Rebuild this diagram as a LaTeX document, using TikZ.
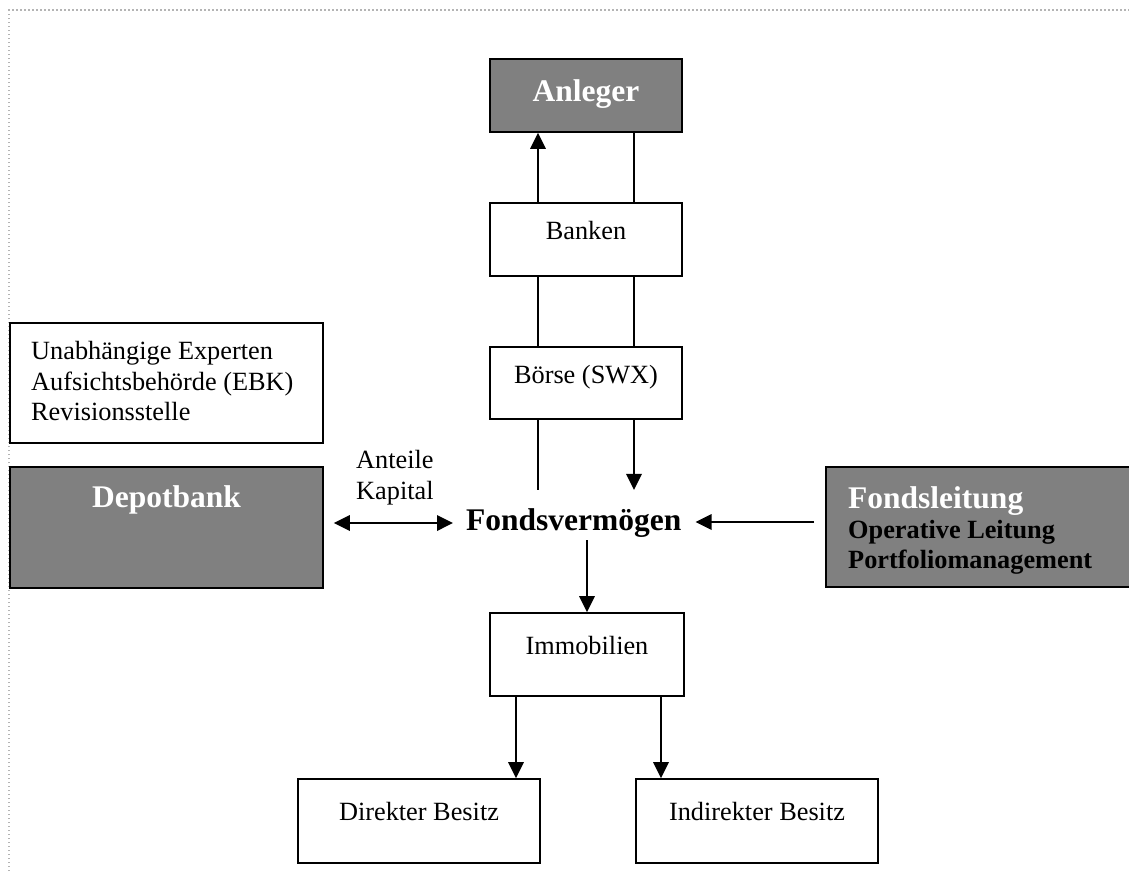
\documentclass[tikz,border=0pt]{standalone}
\usepackage{fontspec}
\setmainfont{Liberation Serif}
\usetikzlibrary{arrows.meta,calc}
\definecolor{boxgray}{HTML}{808080}
\definecolor{framegray}{HTML}{B4B4B4}
\tikzset{
  box/.style={draw=black, line width=1.8pt, rectangle, inner sep=0pt},
  graybox/.style={box, fill=boxgray},
  txt/.style={inner sep=0pt, anchor=base, font=\fontsize{26.3}{31}\selectfont},
  txtl/.style={txt, anchor=base west},
  bigw/.style={inner sep=0pt, anchor=base, text=white, font=\fontsize{31.5}{38}\selectfont\bfseries},
  ln/.style={line width=1.8pt},
  arr/.style={line width=1.8pt, -{Triangle[length=16pt,width=15.5pt]}},
  darr/.style={line width=1.8pt, {Triangle[length=16pt,width=15.5pt]}-{Triangle[length=16pt,width=15.5pt]}},
}
\begin{document}
\begin{tikzpicture}[x=1pt,y=-1pt]
\useasboundingbox (0,0) rectangle (1129,871);
\clip (0,0) rectangle (1129,871);
% dotted page frame
\draw[framegray, line width=1.2pt, dash pattern=on 1.5pt off 2.5pt] (9,871) -- (9,10) -- (1129,10);

% boxes
\node[graybox, minimum width=192pt, minimum height=73pt] (anleger) at (586,95.5) {};
\node[box, minimum width=192pt, minimum height=73pt] (banken) at (586,239.5) {};
\node[box, minimum width=192pt, minimum height=72pt] (boerse) at (586,383) {};
\node[box, minimum width=313pt, minimum height=120pt] (aufsicht) at (166.5,383) {};
\node[graybox, minimum width=313pt, minimum height=121pt] (depot) at (166.5,527.5) {};
\node[graybox, minimum width=314pt, minimum height=120pt] (fleit) at (983,527) {};
\node[box, minimum width=194pt, minimum height=83pt] (immo) at (587,654.5) {};
\node[box, minimum width=242pt, minimum height=84pt] (direkt) at (419,821) {};
\node[box, minimum width=242pt, minimum height=84pt] (indirekt) at (757,821) {};

% texts
\node[bigw] (tanleger) at (586,101) {Anleger};
\node[txt] (tbanken) at (586,239) {Banken};
\node[txt] (tboerse) at (586,383) {Börse (SWX)};
\node[txtl] (t1) at (31,359) {Unabhängige Experten};
\node[txtl] (t2) at (31,390) {Aufsichtsbehörde (EBK)};
\node[txtl] (t3) at (31,420) {Revisionsstelle};
\node[bigw] (tdepot) at (166.5,507) {Depotbank};
\node[bigw, anchor=base west] (tfleit) at (848,508) {Fondsleitung};
\node[txtl, font=\fontsize{26.3}{31}\selectfont\bfseries] (top) at (848,538) {Operative Leitung};
\node[txtl, font=\fontsize{26.3}{31}\selectfont\bfseries] (tpm) at (848,568) {Portfoliomanagement};
\node[txtl] (tanteile) at (356,468) {Anteile};
\node[txtl] (tkapital) at (356,499) {Kapital};
\node[bigw, anchor=base west, text=black] (fonds) at (466,530) {Fondsvermögen};
\node[txt] (timmo) at (587,654) {Immobilien};
\node[txt] (tdirekt) at (419,820) {Direkter Besitz};
\node[txt] (tindirekt) at (757,820) {Indirekter Besitz};

% connectors top
\draw[arr] ([xshift=-48pt]banken.north) -- ([xshift=-48pt]anleger.south);
\draw[ln] ([xshift=48pt]anleger.south) -- ([xshift=48pt]banken.north);
\draw[ln] ([xshift=-48pt]banken.south) -- ([xshift=-48pt]boerse.north);
\draw[ln] ([xshift=48pt]banken.south) -- ([xshift=48pt]boerse.north);

% Boerse to Fondsvermoegen
\coordinate (fn) at ([yshift=18pt]fonds.north);
\coordinate (bl) at ([xshift=-48pt]boerse.south);
\coordinate (br) at ([xshift=48pt]boerse.south);
\coordinate (bfree) at (bl |- fn);
\draw[ln] (bl) -- (bfree);
\draw[arr] (br) -- (br |- fn);

% Depotbank <-> Fondsvermoegen
\coordinate (de) at ([xshift=10pt,yshift=4.5pt]depot.east);
\coordinate (fw) at ([xshift=-13pt]fonds.west);
\draw[darr] (de) -- (de -| fw);

% Fondsleitung -> Fondsvermoegen
\coordinate (fla) at ([xshift=-11pt,yshift=5pt]fleit.west);
\coordinate (fe) at ([xshift=14pt]fonds.east);
\draw[arr] (fla) -- (fla -| fe);

% Fondsvermoegen -> Immobilien
\coordinate (fs) at ([yshift=-3pt]fonds.south);
\draw[arr] (immo.north |- fs) -- (immo.north);

% Immobilien -> Besitz
\coordinate (d1) at ([xshift=-71pt]immo.south);
\coordinate (d2) at ([xshift=74pt]immo.south);
\draw[arr] (d1) -- (d1 |- direkt.north);
\draw[arr] (d2) -- (d2 |- indirekt.north);
\end{tikzpicture}
\end{document}
